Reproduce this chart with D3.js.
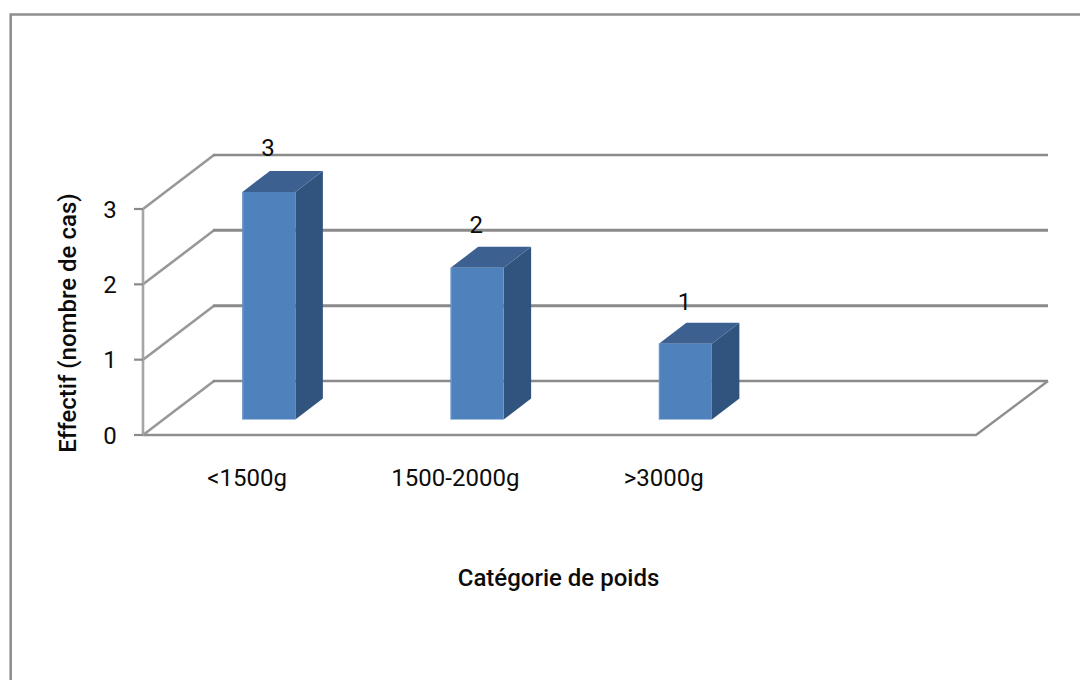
<!DOCTYPE html>
<html lang="fr">
<head>
<meta charset="utf-8">
<title>Effectif par catégorie de poids</title>
<script src="https://cdn.jsdelivr.net/npm/d3@7/dist/d3.min.js"></script>
<style>
html, body { margin: 0; padding: 0; background: #fff; }
svg { display: block; }
text { font-family: Roboto, "Liberation Sans", sans-serif; fill: #0c0c0c; }
</style>
</head>
<body>
<svg id="chart" width="1080" height="680"></svg>
<script>
// Chart data
const categories = ["<1500g", "1500-2000g", ">3000g", ""];
const counts = [3, 2, 1, null];
const yTicks = [0, 1, 2, 3];
const xTitle = "Catégorie de poids";
const yTitle = "Effectif (nombre de cas)";

// Oblique projection of the 3D plot box
const depth = { x: 71, y: -54 };
const barDepth = { x: 27.5, y: -21 };
const front = { left: 143, right: 976, bottom: 435, top: 209 };
const barWidth = 53;
const fontSize = 24;

const svg = d3.select("#chart");

const x = d3.scaleBand().domain(d3.range(categories.length))
  .range([front.left, front.right]);
const y = d3.scaleLinear().domain([0, 3]).range([front.bottom, front.top]);
// Bars stand in the middle of the box depth, on their own vertical scale
const yBar = d3.scaleLinear().domain([0, 3]).range([419.5, 192]);
// Value labels float above the bars on a slightly wider step
const yLabel = d3.scaleLinear().domain([1, 3]).range([301.7, 147.5]);
const barShift = (depth.x - barDepth.x) / 2;
const gridColor = "#8a8a8a";

// Outer frame: only its top and left edges fall inside the page
svg.append("path")
  .attr("d", d3.line()([[10.7, 680], [10.7, 14.5], [1080, 14.5]]))
  .attr("fill", "none").attr("stroke", "#8f8f8f").attr("stroke-width", 2.6);

// Back-wall gridlines with their slanted side-wall segments
yTicks.forEach(t => {
  const yy = y(t);
  svg.append("line")
    .attr("x1", front.left).attr("y1", yy)
    .attr("x2", front.left + depth.x).attr("y2", yy + depth.y)
    .attr("stroke", "#989898").attr("stroke-width", 2.6);
  svg.append("line")
    .attr("x1", front.left + depth.x - 1).attr("y1", yy + depth.y)
    .attr("x2", front.right + depth.x + 1).attr("y2", yy + depth.y)
    .attr("stroke", gridColor)
    .attr("stroke-width", t === 0 || t === 3 ? 2.4 : 3);
});

// Floor: front edge and right-hand slanted edge
svg.append("path")
  .attr("d", d3.line()([
    [front.left, front.bottom],
    [front.right, front.bottom],
    [front.right + depth.x + 1, front.bottom + depth.y]
  ]))
  .attr("fill", "none").attr("stroke", "#8f8f8f").attr("stroke-width", 2.4);

// Vertical axis line and tick marks
svg.append("line")
  .attr("x1", front.left).attr("x2", front.left)
  .attr("y1", y(3) - 1).attr("y2", y(0) + 1)
  .attr("stroke", "#a6a6a6").attr("stroke-width", 2.6);
svg.selectAll("line.tick").data(yTicks).join("line")
  .attr("class", "tick")
  .attr("x1", front.left - 9).attr("x2", front.left)
  .attr("y1", d => y(d)).attr("y2", d => y(d))
  .attr("stroke", gridColor).attr("stroke-width", 2.2);

// Tick labels on the value axis
svg.selectAll("text.ytick").data(yTicks).join("text")
  .attr("class", "ytick")
  .attr("x", 110).attr("y", d => y(d))
  .attr("dy", "0.36em").attr("text-anchor", "middle")
  .attr("font-size", fontSize).text(d => d);

// Bars: side, top and front faces
const poly = pts => d3.line()(pts) + "Z";
const bars = svg.selectAll("g.bar")
  .data(counts.map((v, i) => ({ v, i })).filter(d => d.v !== null))
  .join("g").attr("class", "bar");

bars.each(function (d) {
  const g = d3.select(this);
  const x0 = x(d.i) + x.bandwidth() / 2 - barWidth / 2 + barShift;
  const x1 = x0 + barWidth;
  const yBase = yBar(0);
  const yTop = yBar(d.v);
  const dx = barDepth.x, dy = barDepth.y;

  g.append("path").attr("fill", "#31547f")
    .attr("d", poly([[x1, yTop], [x1 + dx, yTop + dy], [x1 + dx, yBase + dy], [x1, yBase]]));
  g.append("path").attr("fill", "#3c6190")
    .attr("d", poly([[x0, yTop], [x0 + dx, yTop + dy], [x1 + dx, yTop + dy], [x1, yTop]]));
  g.append("rect").attr("fill", "#4f81bd")
    .attr("x", x0).attr("y", yTop).attr("width", barWidth).attr("height", yBase - yTop);
  g.append("rect").attr("fill", "#6a95c9")
    .attr("x", x0).attr("y", yTop).attr("width", 1.2).attr("height", yBase - yTop);

  // Value label above the bar
  g.append("text")
    .attr("x", x0 + barWidth / 2 - 1).attr("y", yLabel(d.v))
    .attr("text-anchor", "middle").attr("font-size", fontSize).attr("dy", "0.36em")
    .text(d.v);
});

// Category labels
svg.selectAll("text.xtick").data(categories).join("text")
  .attr("class", "xtick")
  .attr("x", (d, i) => x(i) + x.bandwidth() / 2)
  .attr("y", 477).attr("dy", "0.36em")
  .attr("text-anchor", "middle").attr("font-size", fontSize)
  .text(d => d);

// Axis titles
svg.append("text")
  .attr("x", 558.5).attr("y", 577).attr("dy", "0.36em")
  .attr("text-anchor", "middle").attr("font-size", fontSize).attr("font-weight", 500)
  .text(xTitle);
svg.append("text")
  .attr("transform", "translate(67,323) rotate(-90)")
  .attr("dy", "0.36em")
  .attr("text-anchor", "middle").attr("font-size", fontSize).attr("font-weight", 500)
  .text(yTitle);
</script>
</body>
</html>
